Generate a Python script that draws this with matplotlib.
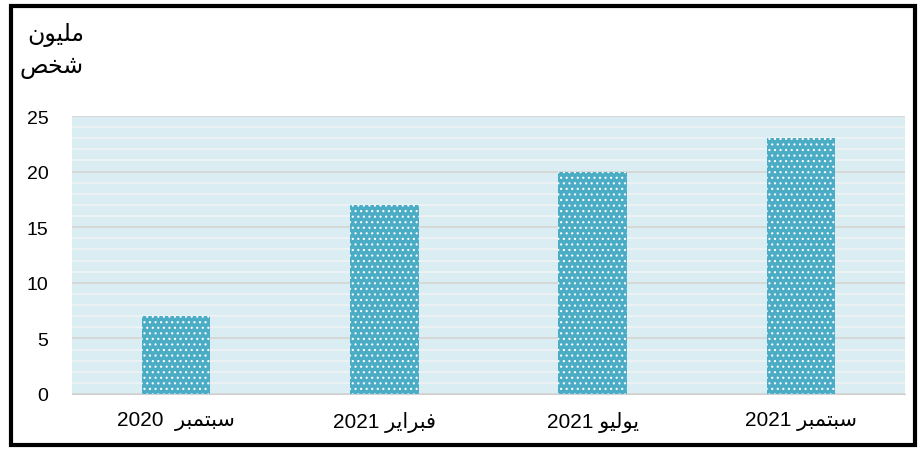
import matplotlib
matplotlib.use("Agg")
import matplotlib.pyplot as plt
import matplotlib.patches as mpatches
import numpy as np

#############################################################
# Data
#############################################################

categories = ["سبتمبر  2020", "فبراير 2021", "يوليو 2021", "سبتمبر 2021"]
values = [7, 17, 20, 23]
y_ticks = [0, 5, 10, 15, 20, 25]
unit_lines = ["مليون", "شخص"]

#############################################################
# Minimal Arabic shaping (matplotlib has no bidi / shaping)
#############################################################

# letter: (isolated, final, initial, medial)
forms = {
    "ا": ("\uFE8D", "\uFE8E", None, None),
    "ر": ("\uFEAD", "\uFEAE", None, None),
    "و": ("\uFEED", "\uFEEE", None, None),
    "ب": ("\uFE8F", "\uFE90", "\uFE91", "\uFE92"),
    "ت": ("\uFE95", "\uFE96", "\uFE97", "\uFE98"),
    "خ": ("\uFEA5", "\uFEA6", "\uFEA7", "\uFEA8"),
    "س": ("\uFEB1", "\uFEB2", "\uFEB3", "\uFEB4"),
    "ش": ("\uFEB5", "\uFEB6", "\uFEB7", "\uFEB8"),
    "ص": ("\uFEB9", "\uFEBA", "\uFEBB", "\uFEBC"),
    "ف": ("\uFED1", "\uFED2", "\uFED3", "\uFED4"),
    "ل": ("\uFEDD", "\uFEDE", "\uFEDF", "\uFEE0"),
    "م": ("\uFEE1", "\uFEE2", "\uFEE3", "\uFEE4"),
    "ن": ("\uFEE5", "\uFEE6", "\uFEE7", "\uFEE8"),
    "ي": ("\uFEF1", "\uFEF2", "\uFEF3", "\uFEF4"),
}

def shape_word(w):
    if not any(c in forms for c in w):
        return w
    out = []
    for i, c in enumerate(w):
        prev_joins = i > 0 and forms[w[i - 1]][2] is not None
        next_exists = i < len(w) - 1
        can_next = forms[c][2] is not None and next_exists
        iso, fin, ini, med = forms[c]
        if prev_joins and can_next:
            out.append(med)
        elif prev_joins:
            out.append(fin)
        elif can_next:
            out.append(ini)
        else:
            out.append(iso)
    return "".join(reversed(out))

def rtl(s):
    return " ".join(shape_word(w) for w in reversed(s.split(" ")))

#############################################################
# Figure
#############################################################

plt.rcParams['font.family'] = ['Liberation Sans', 'DejaVu Sans']
plt.rcParams['hatch.color'] = 'white'
plt.rcParams['hatch.linewidth'] = 0.8

fig = plt.figure(figsize=(9.21, 4.52), dpi=100)
ax = fig.add_axes([72 / 921, 57 / 452, 833 / 921, 278 / 452])
ax.set_facecolor('#DAEDF3')

x = np.arange(len(categories))
ax.bar(x, values, width=0.33, color='#4BACC6', edgecolor='white',
       linewidth=0, hatch='...', zorder=3)

ax.set_xlim(-0.5, len(categories) - 0.5)
ax.set_ylim(0, 25)
ax.set_yticks(y_ticks)
ax.set_yticks(np.arange(0, 26, 1), minor=True)
ax.set_yticklabels([str(t) for t in y_ticks], fontsize=14)
ax.set_xticks(x)
ax.set_xticklabels([rtl(c) for c in categories], fontsize=15)
ax.tick_params(axis='y', which='both', length=0, pad=17)
ax.tick_params(axis='x', length=0, pad=12)

ax.grid(axis='y', which='minor', color='#F0F3F5', linewidth=1.2, zorder=1)
ax.grid(axis='y', which='major', color='#D6D6D6', linewidth=1.3, zorder=2)
for s in ['left', 'right', 'top']:
    ax.spines[s].set_visible(False)
ax.spines['bottom'].set_color('#D0D0D0')

fig.text(84 / 921, 1 - 35 / 452, rtl(unit_lines[0]), ha='right', va='center', fontsize=17)
fig.text(84 / 921, 1 - 68 / 452, rtl(unit_lines[1]), ha='right', va='center', fontsize=17)

border = mpatches.Rectangle((11 / 921, 6 / 452), 904 / 921, 439 / 452,
                            transform=fig.transFigure, fill=False,
                            edgecolor='black', linewidth=3)
fig.patches.append(border)

plt.savefig("out.png", dpi=100)
plt.close(fig)
